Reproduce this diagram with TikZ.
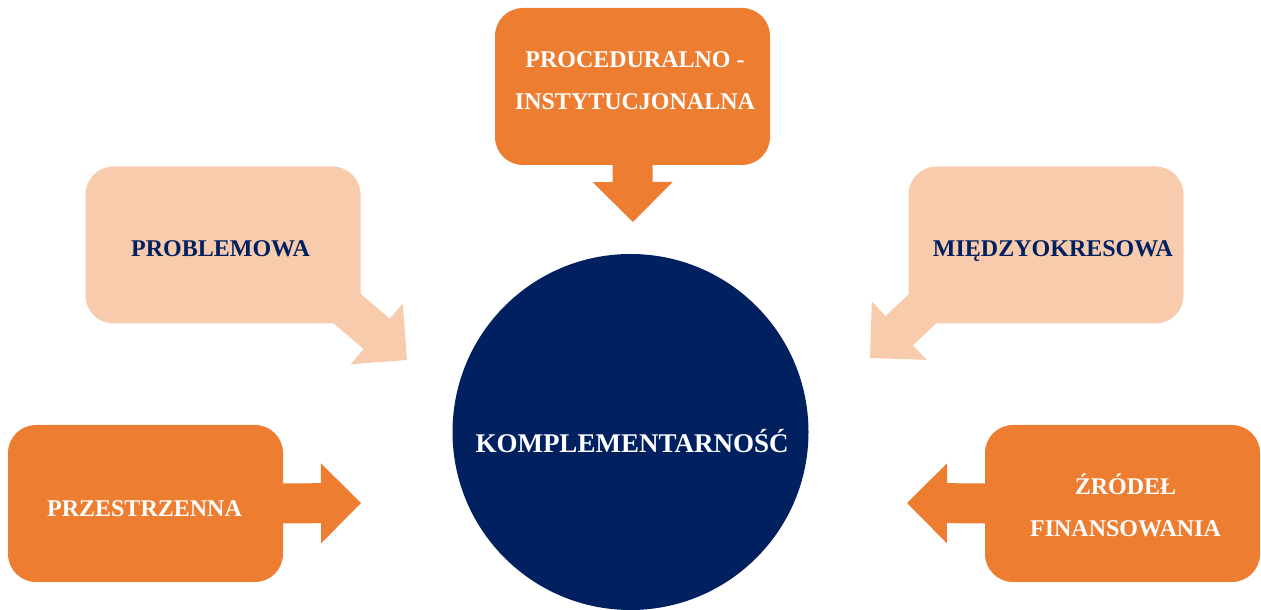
\documentclass[tikz,border=0pt]{standalone}
\usepackage{fontspec}
\setmainfont{Liberation Serif}
\usetikzlibrary{calc,positioning}
\definecolor{orangebox}{HTML}{ED7D31}
\definecolor{peachbox}{HTML}{F8CBAD}
\definecolor{navy}{HTML}{002060}

% block arrow: colour, start (inside the box), tip
\newcommand\blockarrow[3]{%
  \coordinate (hb) at ($(#3)!40pt!(#2)$);
  \fill[#1] ($(#2)!20pt!90:(#3)$) -- ($(hb)!20pt!90:(#3)$) -- ($(hb)!40pt!90:(#3)$) -- (#3)
    -- ($(hb)!40pt!-90:(#3)$) -- ($(hb)!20pt!-90:(#3)$) -- ($(#2)!20pt!-90:(#3)$) -- cycle;}

\begin{document}
\begin{tikzpicture}[x=1pt,y=1pt,
  box/.style={rounded corners=28pt,minimum width=275pt,minimum height=157pt,inner sep=0pt},
  txt/.style={font=\fontsize{24}{42}\selectfont\bfseries,align=center,anchor=base,inner sep=0pt}]
  \useasboundingbox (0,0) rectangle (1261,610);
  % boxes
  \node[box,fill=orangebox] (proc) at (632.5,523.5) {};
  \node[box,fill=peachbox] (probl) at (223,365) {};
  \node[box,fill=peachbox] (miedzy) at (1046,365) {};
  \node[box,fill=orangebox] (przes) at (145.5,106.5) {};
  \node[box,fill=orangebox] (zrodel) at (1122.5,106.5) {};
  \node[circle,fill=navy,minimum size=356pt,inner sep=0pt] (kompl) at (630.5,178) {};
  % arrow tips
  \coordinate (tproc) at (633,388);
  \coordinate (tprobl) at (407,250);
  \coordinate (tmiedzy) at (870,252);
  \coordinate (tprzes) at (361,107);
  \coordinate (tzrodel) at (907,107);
  \blockarrow{orangebox}{$(proc.south)+(0,20)$}{tproc}
  \blockarrow{peachbox}{$(probl.south east)+(-25,25)$}{tprobl}
  \blockarrow{peachbox}{$(miedzy.south west)+(25,25)$}{tmiedzy}
  \blockarrow{orangebox}{$(przes.east)+(-20,0)$}{tprzes}
  \blockarrow{orangebox}{$(zrodel.west)+(20,0)$}{tzrodel}
  % labels (base = last line)
  \node[txt,white] (lproc) at (635,500) {PROCEDURALNO -\\INSTYTUCJONALNA};
  \node[txt,navy] (lprobl) at (220.5,353) {PROBLEMOWA};
  \node[txt,navy] (lmiedzy) at (1053,353) {MIĘDZYOKRESOWA};
  \node[txt,white] (lprzes) at (144.5,93) {PRZESTRZENNA};
  \node[txt,white] (lzrodel) at (1125.5,73) {ŹRÓDEŁ\\FINANSOWANIA};
  \node[txt,white,font=\fontsize{27}{32}\selectfont\bfseries] (lkompl) at (632,157) {KOMPLEMENTARNOŚĆ};
\end{tikzpicture}
\end{document}
